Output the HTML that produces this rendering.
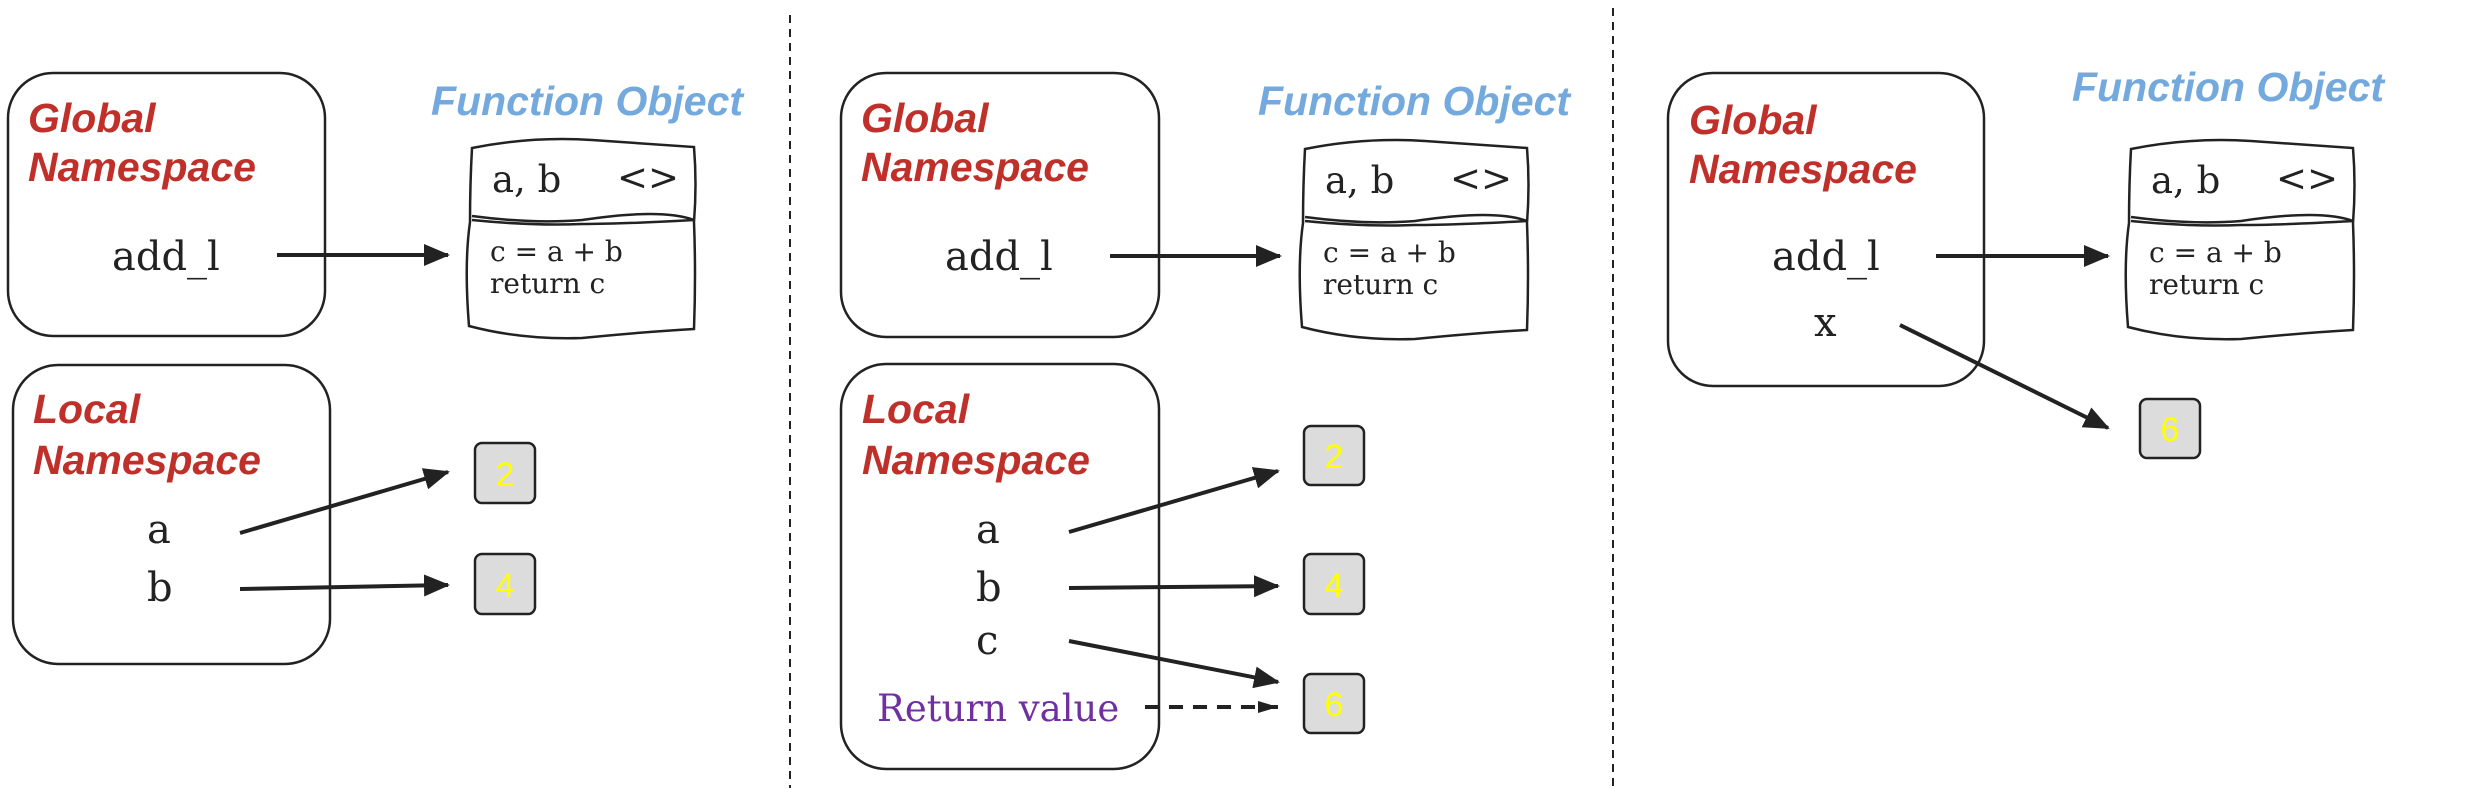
<!DOCTYPE html>
<html><head><meta charset="utf-8"><style>
html,body{margin:0;padding:0;background:#fff;}
svg{display:block;}
.ttl{font-family:"Liberation Sans",sans-serif;font-weight:bold;font-style:italic;font-size:41px;fill:#c0302a;}
.fo{font-family:"Liberation Sans",sans-serif;font-weight:bold;font-style:italic;font-size:41px;fill:#74a9dd;}
.var{font-family:"DejaVu Serif",serif;font-size:40px;fill:#222;}
.hd{font-family:"DejaVu Serif",serif;font-size:37px;fill:#222;}
.code{font-family:"DejaVu Serif",serif;font-size:28px;fill:#222;}
.num{font-family:"Liberation Sans",sans-serif;font-size:34px;fill:#ffff00;text-anchor:middle;}
.rv{font-family:"DejaVu Serif",serif;font-size:37px;fill:#7030a0;}
.box{fill:none;stroke:#222;stroke-width:2.5;}
.ar{stroke:#222;stroke-width:4;fill:none;marker-end:url(#ah);}
.nb{fill:#dcdcdc;stroke:#222;stroke-width:2.5;}
</style></head><body>
<svg width="2489" height="788" viewBox="0 0 2489 788" xmlns="http://www.w3.org/2000/svg">
<defs>
<marker id="ah" markerUnits="userSpaceOnUse" markerWidth="26" markerHeight="22" refX="24" refY="11" orient="auto"><path d="M0,0 L26,11 L0,22 Z" fill="#222"/></marker>
<marker id="ah2" markerUnits="userSpaceOnUse" markerWidth="20" markerHeight="12" refX="20" refY="6" orient="auto"><path d="M0,0 L20,6 L0,12 Z" fill="#222"/></marker>
<g id="fbox">
<path class="box" d="M0,4 Q60,-8 120,-4 T222,3 Q225,40 222,78 Q224,130 222,185 Q170,188 110,194 Q50,196 -3,182 Q-8,120 -2,78 Q-2,40 0,4 Z"/>
<path class="box" d="M0,72 Q60,80 110,76 Q190,64 222,76 Q150,80 110,80 Q60,82 0,76" />
<text class="hd" x="20" y="48">a, b</text>
<text class="hd" x="145" y="46">&lt;&gt;</text>
<text class="code" x="18" y="117">c = a + b</text>
<text class="code" x="18" y="149">return c</text>
</g>
</defs>

<line x1="790" y1="15" x2="790" y2="788" stroke="#222" stroke-width="2" stroke-dasharray="8,6"/>
<line x1="1613" y1="8" x2="1613" y2="788" stroke="#222" stroke-width="2" stroke-dasharray="8,6"/>

<!-- Panel 1 -->
<rect class="box" x="8" y="73" width="317" height="263" rx="45"/>
<text class="ttl" x="28" y="132">Global</text>
<text class="ttl" x="28" y="181">Namespace</text>
<text class="var" x="112" y="270">add_l</text>
<line class="ar" x1="277" y1="255" x2="448" y2="255"/>
<text class="fo" x="431" y="115">Function Object</text>
<use href="#fbox" x="472" y="144"/>
<rect class="box" x="13" y="365" width="317" height="299" rx="45"/>
<text class="ttl" x="33" y="423">Local</text>
<text class="ttl" x="33" y="474">Namespace</text>
<text class="var" x="147" y="543">a</text>
<text class="var" x="147" y="601">b</text>
<line class="ar" x1="240" y1="533" x2="448" y2="472"/>
<line class="ar" x1="240" y1="589" x2="448" y2="585"/>
<rect class="nb" x="475" y="443" width="60" height="60" rx="7"/><text class="num" x="505" y="486">2</text>
<rect class="nb" x="475" y="554" width="60" height="60" rx="7"/><text class="num" x="505" y="597">4</text>

<!-- Panel 2 -->
<rect class="box" x="841" y="73" width="318" height="264" rx="45"/>
<text class="ttl" x="861" y="132">Global</text>
<text class="ttl" x="861" y="181">Namespace</text>
<text class="var" x="945" y="270">add_l</text>
<line class="ar" x1="1110" y1="256" x2="1280" y2="256"/>
<text class="fo" x="1258" y="115">Function Object</text>
<use href="#fbox" x="1305" y="145"/>
<rect class="box" x="841" y="364" width="318" height="405" rx="45"/>
<text class="ttl" x="862" y="423">Local</text>
<text class="ttl" x="862" y="474">Namespace</text>
<text class="var" x="976" y="543">a</text>
<text class="var" x="976" y="601">b</text>
<text class="var" x="976" y="654">c</text>
<text class="rv" x="877" y="721">Return value</text>
<line class="ar" x1="1069" y1="532" x2="1278" y2="471"/>
<line class="ar" x1="1069" y1="588" x2="1278" y2="586"/>
<line class="ar" x1="1069" y1="641" x2="1278" y2="682"/>
<line x1="1145" y1="707" x2="1278" y2="707" stroke="#222" stroke-width="4" stroke-dasharray="14,10" marker-end="url(#ah2)"/>
<rect class="nb" x="1304" y="426" width="60" height="59" rx="7"/><text class="num" x="1334" y="468">2</text>
<rect class="nb" x="1304" y="554" width="60" height="60" rx="7"/><text class="num" x="1334" y="597">4</text>
<rect class="nb" x="1304" y="674" width="60" height="59" rx="7"/><text class="num" x="1334" y="716">6</text>

<!-- Panel 3 -->
<rect class="box" x="1668" y="73" width="316" height="313" rx="45"/>
<text class="ttl" x="1689" y="134">Global</text>
<text class="ttl" x="1689" y="183">Namespace</text>
<text class="var" x="1772" y="270">add_l</text>
<text class="var" x="1814" y="336">x</text>
<line class="ar" x1="1936" y1="256" x2="2108" y2="256"/>
<line class="ar" x1="1900" y1="325" x2="2108" y2="428"/>
<text class="fo" x="2072" y="101">Function Object</text>
<use href="#fbox" x="2131" y="145"/>
<rect class="nb" x="2140" y="399" width="60" height="59" rx="7"/><text class="num" x="2170" y="441">6</text>
</svg>
</body></html>
